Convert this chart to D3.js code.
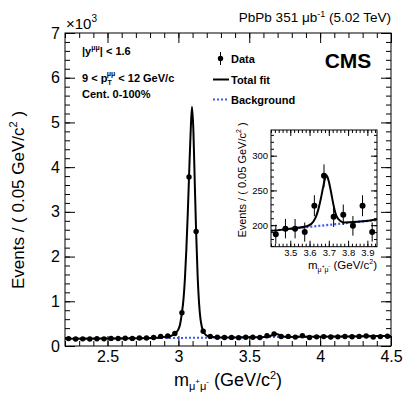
<!DOCTYPE html>
<html><head><meta charset="utf-8">
<script src="https://cdn.jsdelivr.net/npm/d3@7"></script>
<style>body{margin:0;background:#fff} svg text{font-family:"Liberation Sans",Arial,Helvetica,sans-serif}</style>
</head><body><svg id="c" width="407" height="395"></svg>
<script>
// ---------- data ----------
const massBins = [2.225,2.275,2.325,2.375,2.425,2.475,2.525,2.575,2.625,2.675,2.725,2.775,2.825,2.875,2.925,2.975,3.025,3.075,3.125,3.175,3.225,3.275,3.325,3.375,3.425,3.475,3.525,3.575,3.625,3.675,3.725,3.775,3.825,3.875,3.925,3.975,4.025,4.075,4.125,4.175,4.225,4.275,4.325,4.375,4.425,4.475];
const events   = [165,158,160,157,162,160,170,168,172,170,178,180,190,215,225,280,745,3780,2560,330,215,195,190,192,187,195,195,190,228,271,212,215,199,228,190,205,210,200,205,212,208,215,225,200,210,218];
const fitMass  = [2.2,2.5,2.7,2.8,2.85,2.896,2.946,2.975,2.996,3.011,3.025,3.036,3.046,3.056,3.066,3.075,3.086,3.096,3.106,3.116,3.125,3.136,3.146,3.156,3.166,3.175,3.196,3.226,3.296,3.4,3.5,3.58,3.61,3.63,3.645,3.66,3.67,3.68,3.686,3.692,3.7,3.71,3.72,3.73,3.74,3.76,3.78,3.85,3.95,4.2,4.5];
const fitTotal = [160,168,175,180,185,200,225,280,350,470,745,1050,1500,2150,2950,3780,4750,5350,4800,3600,2560,1550,950,600,420,330,240,205,192,192,195,198,202,210,222,240,254,267,272,270,263,250,235,222,213,206,204,205,208,215,223];
const bkgMass  = [2.2,4.5];
const bkgLevel = [158,223];
const xTickLabels = ["2.5","3","3.5","4","4.5"];
const xTickValues = [2.5,3,3.5,4,4.5];
const yTickValues = [0,1000,2000,3000,4000,5000,6000,7000];
const yTickLabels = ["0","1","2","3","4","5","6","7"];
const insetXTickValues = [3.5,3.6,3.7,3.8,3.9];
const insetXTickLabels = ["3.5","3.6","3.7","3.8","3.9"];
const insetYTickValues = [200,250,300];
const insetYTickLabels = ["200","250","300"];

const data = massBins.map((m,i)=>({m, v:events[i]}));
const fit = fitMass.map((m,i)=>({m, v:fitTotal[i]}));
const bkg = bkgMass.map((m,i)=>({m, v:bkgLevel[i]}));

const svg = d3.select("#c");
const BLUE = "#3b5bf6";

// ---------- main plot ----------
const L=65, R=391, T=33, B=346;
const x = d3.scaleLinear().domain([2.2,4.5]).range([L,R]);
const y = d3.scaleLinear().domain([0,7000]).range([B,T]);

function axes(g, xs, ys, xv, xl, yv, yl, xMinor, yMinor, majLen, minLen, fs, pad){
  const [x0,x1]=xs.range(), [y0,y1]=ys.range();
  g.append("g").attr("transform",`translate(0,${y0})`)
    .call(d3.axisBottom(xs).tickValues(xMinor).tickSizeInner(-minLen).tickSizeOuter(0).tickFormat(""))
    .call(a=>a.select(".domain").remove());
  g.append("g").attr("transform",`translate(0,${y0})`)
    .call(d3.axisBottom(xs).tickValues(xv).tickSizeInner(-majLen).tickSizeOuter(0).tickPadding(pad[0]).tickFormat((d,i)=>xl[i]))
    .call(a=>{a.select(".domain").remove(); a.selectAll("text").attr("font-size",fs).attr("fill","#000").style("font-family","Liberation Sans, Arial, sans-serif");});
  g.append("g").attr("transform",`translate(0,${y1})`)
    .call(d3.axisTop(xs).tickValues(xMinor).tickSizeInner(-minLen).tickSizeOuter(0).tickFormat(""))
    .call(a=>a.select(".domain").remove());
  g.append("g").attr("transform",`translate(0,${y1})`)
    .call(d3.axisTop(xs).tickValues(xv).tickSizeInner(-majLen).tickSizeOuter(0).tickFormat(""))
    .call(a=>a.select(".domain").remove());
  g.append("g").attr("transform",`translate(${x0},0)`)
    .call(d3.axisLeft(ys).tickValues(yMinor).tickSizeInner(-minLen).tickSizeOuter(0).tickFormat(""))
    .call(a=>a.select(".domain").remove());
  g.append("g").attr("transform",`translate(${x0},0)`)
    .call(d3.axisLeft(ys).tickValues(yv).tickSizeInner(-majLen).tickSizeOuter(0).tickPadding(pad[1]).tickFormat((d,i)=>yl[i]))
    .call(a=>{a.select(".domain").remove(); a.selectAll("text").attr("font-size",fs).attr("fill","#000").style("font-family","Liberation Sans, Arial, sans-serif");});
  g.append("g").attr("transform",`translate(${x1},0)`)
    .call(d3.axisRight(ys).tickValues(yMinor).tickSizeInner(-minLen).tickSizeOuter(0).tickFormat(""))
    .call(a=>a.select(".domain").remove());
  g.append("g").attr("transform",`translate(${x1},0)`)
    .call(d3.axisRight(ys).tickValues(yv).tickSizeInner(-majLen).tickSizeOuter(0).tickFormat(""))
    .call(a=>a.select(".domain").remove());
  g.selectAll(".tick line").attr("stroke","#000");
  g.append("rect").attr("x",x0).attr("y",y1).attr("width",x1-x0).attr("height",y0-y1)
    .attr("fill","none").attr("stroke","#000").attr("stroke-width",1);
}

const gMain = svg.append("g");
axes(gMain, x, y, xTickValues, xTickLabels, yTickValues, yTickLabels,
     d3.range(2.2,4.5001,0.1), d3.range(0,7001,200), 10, 5, 16, [5,5]);

svg.append("defs").append("clipPath").attr("id","mainclip")
  .append("rect").attr("x",L).attr("y",T).attr("width",R-L).attr("height",B-T);

const line = (xs,ys)=>d3.line().x(d=>xs(d.m)).y(d=>ys(d.v)).curve(d3.curveMonotoneX);

gMain.append("path").datum(bkg).attr("d",line(x,y)).attr("fill","none")
  .attr("stroke",BLUE).attr("stroke-width",2).attr("stroke-dasharray","2,2").attr("clip-path","url(#mainclip)");
gMain.append("g").selectAll("line").data(data).join("line")
  .attr("x1",d=>x(d.m)).attr("x2",d=>x(d.m)).attr("y1",d=>y(d.v-Math.sqrt(d.v))).attr("y2",d=>y(d.v+Math.sqrt(d.v)))
  .attr("stroke","#000").attr("stroke-width",1);
gMain.append("g").selectAll("circle").data(data).join("circle")
  .attr("cx",d=>x(d.m)).attr("cy",d=>y(d.v)).attr("r",2.7).attr("fill","#000");
gMain.append("path").datum(fit).attr("d",line(x,y)).attr("fill","none")
  .attr("stroke","#000").attr("stroke-width",2).attr("clip-path","url(#mainclip)");

// titles
svg.append("text").attr("x",228).attr("y",386).attr("text-anchor","middle").attr("font-size",18)
  .call(t=>{t.append("tspan").text("m");
    t.append("tspan").attr("font-size",11).attr("dy",4).text("μ");
    t.append("tspan").attr("font-size",8).attr("dy",-6).text("+");
    t.append("tspan").attr("font-size",11).attr("dy",6).text("μ");
    t.append("tspan").attr("font-size",8).attr("dy",-6).text("-");
    t.append("tspan").attr("dy",2).text(" (GeV/c");
    t.append("tspan").attr("font-size",11).attr("dy",-7).text("2");
    t.append("tspan").attr("dy",7).text(")");});
svg.append("text").attr("transform","translate(24,200) rotate(-90)").attr("text-anchor","middle").attr("font-size",17)
  .call(t=>{t.append("tspan").text("Events / ( 0.05 GeV/c");
    t.append("tspan").attr("font-size",11).attr("dy",-7).text("2");
    t.append("tspan").attr("dy",7).text(" )");});
svg.append("text").attr("x",66).attr("y",29).attr("font-size",15)
  .call(t=>{t.append("tspan").text("×10"); t.append("tspan").attr("font-size",10).attr("dy",-7).text("3");});
svg.append("text").attr("x",391).attr("y",22).attr("text-anchor","end").attr("font-size",13.5)
  .call(t=>{t.append("tspan").text("PbPb 351 μb");
    t.append("tspan").attr("font-size",9).attr("dy",-5).text("-1");
    t.append("tspan").attr("dy",5).text(" (5.02 TeV)");});
svg.append("text").attr("x",348).attr("y",68).attr("text-anchor","middle").attr("font-size",21).attr("font-weight","bold").text("CMS");

// left labels
svg.append("text").attr("x",82).attr("y",55).attr("font-size",11).attr("font-weight","bold")
  .call(t=>{t.append("tspan").text("|y");
    t.append("tspan").attr("font-size",7).attr("dy",-5).text("μμ");
    t.append("tspan").attr("dy",5).text("| < 1.6");});
svg.append("text").attr("x",82).attr("y",82).attr("font-size",11).attr("font-weight","bold")
  .call(t=>{t.append("tspan").text("9 < p");
    t.append("tspan").attr("font-size",7).attr("dy",3).text("T");
    t.append("tspan").attr("font-size",7).attr("dx",-5).attr("dy",-9).text("μμ");
    t.append("tspan").attr("dy",6).text(" < 12 GeV/c");});
svg.append("text").attr("x",82).attr("y",98).attr("font-size",11).attr("font-weight","bold").text("Cent. 0-100%");

// legend
const lg = svg.append("g");
lg.append("line").attr("x1",220.5).attr("x2",220.5).attr("y1",52).attr("y2",65).attr("stroke","#000");
lg.append("circle").attr("cx",220.5).attr("cy",58.5).attr("r",2.7).attr("fill","#000");
lg.append("text").attr("x",231).attr("y",62.5).attr("font-size",11).attr("font-weight","bold").text("Data");
lg.append("line").attr("x1",213).attr("x2",229).attr("y1",79.5).attr("y2",79.5).attr("stroke","#000").attr("stroke-width",2);
lg.append("text").attr("x",231).attr("y",83.5).attr("font-size",11).attr("font-weight","bold").text("Total fit");
lg.append("line").attr("x1",213).attr("x2",229).attr("y1",99.5).attr("y2",99.5).attr("stroke",BLUE).attr("stroke-width",2).attr("stroke-dasharray","2,2");
lg.append("text").attr("x",231).attr("y",103.5).attr("font-size",11).attr("font-weight","bold").text("Background");

// ---------- inset ----------
const iL=271, iR=377, iT=130, iB=246.7;
const xi = d3.scaleLinear().domain([3.4,3.95]).range([iL,iR]);
const yi = d3.scaleLinear().domain([169,337]).range([iB,iT]);
const gIn = svg.append("g");
gIn.append("rect").attr("x",iL).attr("y",iT).attr("width",iR-iL).attr("height",iB-iT).attr("fill","#fff");
axes(gIn, xi, yi, insetXTickValues, insetXTickLabels, insetYTickValues, insetYTickLabels,
     d3.range(3.4,3.9501,0.02), d3.range(170,337,10), 6, 3, 9.5, [3,3]);
svg.select("defs").append("clipPath").attr("id","inclip")
  .append("rect").attr("x",iL).attr("y",iT).attr("width",iR-iL).attr("height",iB-iT);
const inData = data.filter(d=>d.m>3.4 && d.m<3.95);
gIn.append("path").datum(bkg).attr("d",line(xi,yi)).attr("fill","none")
  .attr("stroke",BLUE).attr("stroke-width",2.2).attr("stroke-dasharray","2,2").attr("clip-path","url(#inclip)");
gIn.append("g").selectAll("line").data(inData).join("line")
  .attr("x1",d=>xi(d.m)).attr("x2",d=>xi(d.m)).attr("y1",d=>yi(d.v-Math.sqrt(d.v))).attr("y2",d=>yi(d.v+Math.sqrt(d.v)))
  .attr("stroke","#000").attr("stroke-width",1);
gIn.append("g").selectAll("circle").data(inData).join("circle")
  .attr("cx",d=>xi(d.m)).attr("cy",d=>yi(d.v)).attr("r",3).attr("fill","#000");
gIn.append("path").datum(fit).attr("d",line(xi,yi)).attr("fill","none")
  .attr("stroke","#000").attr("stroke-width",2).attr("clip-path","url(#inclip)");
svg.append("text").attr("x",377).attr("y",269).attr("text-anchor","end").attr("font-size",11.5)
  .call(t=>{t.append("tspan").text("m");
    t.append("tspan").attr("font-size",7).attr("dy",3).text("μ");
    t.append("tspan").attr("font-size",5).attr("dy",-4).text("+");
    t.append("tspan").attr("font-size",7).attr("dy",4).text("μ");
    t.append("tspan").attr("font-size",5).attr("dy",-4).text("-");
    t.append("tspan").attr("dy",1).text(" (GeV/c");
    t.append("tspan").attr("font-size",7).attr("dy",-5).text("2");
    t.append("tspan").attr("dy",5).text(")");});
svg.append("text").attr("transform","translate(246,180) rotate(-90)").attr("text-anchor","middle").attr("font-size",11)
  .call(t=>{t.append("tspan").text("Events / ( 0.05 GeV/c");
    t.append("tspan").attr("font-size",7).attr("dy",-5).text("2");
    t.append("tspan").attr("dy",5).text(" )");});
</script></body></html>
